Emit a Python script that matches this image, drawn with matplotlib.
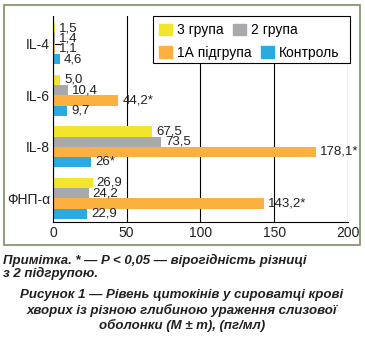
import matplotlib
matplotlib.use('Agg')
import matplotlib.pyplot as plt
import numpy as np
from matplotlib.patches import Rectangle, Patch

plt.rcParams['font.family'] = ['Liberation Sans', 'DejaVu Sans']

categories = ['IL-4', 'IL-6', 'IL-8', 'ФНП-α']
series_names = ['3 група', '2 група', '1А підгрупа', 'Контроль']
group3 = [1.5, 5.0, 67.5, 26.9]
group2 = [1.4, 10.4, 73.5, 24.2]
group1a = [1.1, 44.2, 178.1, 143.2]
control = [4.6, 9.7, 26, 22.9]
labels3 = ['1,5', '5,0', '67,5', '26,9']
labels2 = ['1,4', '10,4', '73,5', '24,2']
labels1a = ['1,1', '44,2*', '178,1*', '143,2*']
labels_c = ['4,6', '9,7', '26*', '22,9']
xticks = [0, 50, 100, 150, 200]

colors = ['#f2e52b', '#a7a9ac', '#fbb040', '#29abe2']
txt = '#231f20'

fig = plt.figure(figsize=(3.65, 3.39), dpi=100)
ax = fig.add_axes([0.145, 0.345, 0.808, 0.608])

y = np.arange(len(categories))
h = 0.2
series = [group3, group2, group1a, control]
labels = [labels3, labels2, labels1a, labels_c]
for i, (vals, labs, c) in enumerate(zip(series, labels, colors)):
    bars = ax.barh(y + (i - 1.5) * h, vals, height=h, color=c, zorder=2)
    ax.bar_label(bars, labels=labs, padding=3, fontsize=9.5, color=txt)

ax.set_ylim(3.46, -0.54)
ax.set_xlim(0, 200)
ax.set_xticks(xticks)
ax.set_yticks(y)
ax.set_yticklabels(categories)
ax.tick_params(axis='x', length=0, pad=3, labelsize=10, labelcolor=txt)
ax.tick_params(axis='y', direction='in', length=6, width=0.8, pad=2, labelsize=10, labelcolor=txt)
ax.xaxis.grid(True, color='black', lw=0.8)
ax.set_axisbelow(True)
for s in ['top', 'right']:
    ax.spines[s].set_visible(False)
for s in ['left', 'bottom']:
    ax.spines[s].set_linewidth(0.8)

# legend: white box with two rows laid out like the original
box = Rectangle((0.339, 0.772), 0.668, 0.228, transform=ax.transAxes,
                facecolor='white', edgecolor='black', lw=0.8, zorder=5, clip_on=False)
ax.add_patch(box)
handles = [Patch(color=c) for c in colors]
kw = dict(ncol=2, loc='upper left', frameon=False, borderpad=0, fontsize=10,
          handlelength=0.95, handleheight=0.9, handletextpad=0.35,
          columnspacing=0.65, borderaxespad=0)
leg1 = ax.legend(handles[:2], series_names[:2], bbox_to_anchor=(0.359, 0.965), **kw)
leg1.set_zorder(6)
ax.add_artist(leg1)
leg2 = ax.legend(handles[2:], series_names[2:], bbox_to_anchor=(0.359, 0.855), **kw)
leg2.set_zorder(6)

fig.add_artist(Rectangle((4 / 365, 1 - 245 / 339), 356 / 365, 240 / 339,
                         transform=fig.transFigure, fill=False,
                         edgecolor='#7d8f63', lw=1.2))

fnt = dict(fontsize=9.5, fontweight='bold', fontstyle='italic', color=txt)
fig.text(0.008, 1 - 260 / 339, 'Примітка. * — P < 0,05 — вірогідність різниці',
         ha='left', va='center', **fnt)
fig.text(0.008, 1 - 273 / 339, 'з 2 підгрупою.', ha='left', va='center', **fnt)
caption = ['Рисунок 1 — Рівень цитокінів у сироватці крові',
           'хворих із різною глибиною ураження слизової',
           'оболонки (M ± m), (пг/мл)']
for k, line in enumerate(caption):
    fig.text(182 / 365, 1 - (295 + 15 * k) / 339, line, ha='center', va='center', **fnt)

fig.savefig('out.png', dpi=100)
